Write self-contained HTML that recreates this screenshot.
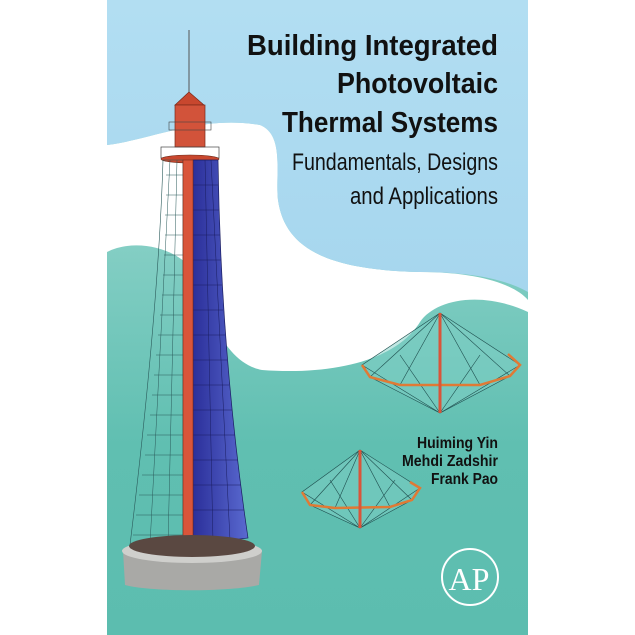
<!DOCTYPE html>
<html><head><meta charset="utf-8"><style>
html,body{margin:0;padding:0;background:#fff;width:635px;height:635px;overflow:hidden}
svg{display:block}
</style></head><body>
<svg width="635" height="635" viewBox="0 0 635 635" xmlns="http://www.w3.org/2000/svg">
<defs>
<linearGradient id="teal" x1="0" y1="0" x2="0" y2="1">
<stop offset="0" stop-color="#b4e0dc"/><stop offset="0.45" stop-color="#7ccbc0"/><stop offset="0.7" stop-color="#60bfb1"/><stop offset="1" stop-color="#5cbdaf"/>
</linearGradient>
<linearGradient id="sky" x1="0" y1="0" x2="0" y2="1">
<stop offset="0" stop-color="#b2def2"/><stop offset="1" stop-color="#a6d6ee"/>
</linearGradient>
<linearGradient id="blue" x1="0" y1="0" x2="1" y2="0">
<stop offset="0" stop-color="#2b2f9a"/><stop offset="1" stop-color="#5a6ad0"/>
</linearGradient>
</defs>
<rect x="107" y="0" width="421" height="635" fill="url(#teal)"/>
<path d="M107,145 C150,140 200,115 260,125 C285,135 275,175 278,200 C285,250 330,270 420,272 C480,272 515,285 528,300 L528,312 C480,290 435,300 420,322 C395,362 330,375 262,370 C220,362 205,300 185,262 C165,245 130,240 107,252 Z" fill="#ffffff"/>
<path d="M107,0 L528,0 L528,292 C510,282 480,272 420,272 C330,270 285,250 278,200 C275,175 285,135 260,125 C200,115 150,140 107,145 Z" fill="url(#sky)"/>

<!-- tower -->
<line x1="189" y1="30" x2="189" y2="92" stroke="#555" stroke-width="1"/>
<polygon points="189,92 204,105 175,105" fill="#c8472e" stroke="#7a2a1a" stroke-width="0.7"/>
<rect x="175" y="105" width="30" height="42" fill="#d2533a" stroke="#7a2a1a" stroke-width="0.7"/>
<rect x="169" y="122" width="42" height="8" fill="none" stroke="#444" stroke-width="0.6"/>
<rect x="161" y="147" width="58" height="11" fill="none" stroke="#444" stroke-width="0.7"/>
<ellipse cx="190" cy="159" rx="29" ry="4" fill="#c8472e" stroke="#6a2a1a" stroke-width="0.6"/>
<!-- mesh left -->
<path d="M163,160 C160,260 150,380 130,545 L183,545 L183,160 Z" fill="none" stroke="#2a5a5a" stroke-width="0.6"/>
<g stroke="#2a5a5a" stroke-width="0.5" fill="none">
<line x1="170" y1="160" x2="150" y2="545"/><line x1="177" y1="160" x2="168" y2="545"/>
<line x1="166" y1="175" x2="183" y2="175"/><line x1="166" y1="195" x2="183" y2="195"/><line x1="165" y1="215" x2="183" y2="215"/><line x1="165" y1="235" x2="183" y2="235"/><line x1="164" y1="255" x2="183" y2="255"/><line x1="163" y1="275" x2="183" y2="275"/><line x1="162" y1="295" x2="183" y2="295"/><line x1="160" y1="315" x2="183" y2="315"/><line x1="158" y1="335" x2="183" y2="335"/><line x1="156" y1="355" x2="183" y2="355"/><line x1="154" y1="375" x2="183" y2="375"/><line x1="152" y1="395" x2="183" y2="395"/><line x1="150" y1="415" x2="183" y2="415"/><line x1="147" y1="435" x2="183" y2="435"/><line x1="145" y1="455" x2="183" y2="455"/><line x1="142" y1="475" x2="183" y2="475"/><line x1="139" y1="495" x2="183" y2="495"/><line x1="136" y1="515" x2="183" y2="515"/><line x1="133" y1="535" x2="183" y2="535"/>
</g>
<!-- blue panels -->
<path d="M193,160 L218,160 C220,300 232,430 248,538 L193,545 Z" fill="url(#blue)" stroke="#1a1d60" stroke-width="0.7"/>
<g stroke="#1a1d60" stroke-width="0.5">
<line x1="205" y1="160" x2="213" y2="542"/><line x1="211" y1="160" x2="230" y2="540"/>
<line x1="193" y1="185" x2="218" y2="185"/><line x1="193" y1="210" x2="219" y2="210"/><line x1="193" y1="235" x2="220" y2="235"/><line x1="193" y1="260" x2="221" y2="260"/><line x1="193" y1="285" x2="222" y2="285"/><line x1="193" y1="310" x2="223" y2="310"/><line x1="193" y1="335" x2="225" y2="335"/><line x1="193" y1="360" x2="227" y2="360"/><line x1="193" y1="385" x2="229" y2="385"/><line x1="193" y1="410" x2="232" y2="410"/><line x1="193" y1="435" x2="235" y2="435"/><line x1="193" y1="460" x2="238" y2="460"/><line x1="193" y1="485" x2="241" y2="485"/><line x1="193" y1="510" x2="244" y2="510"/>
</g>
<rect x="183" y="160" width="10" height="385" fill="#d9553a" stroke="#7a2a1a" stroke-width="0.6"/>
<!-- base -->
<path d="M123,551 L262,551 L259,585 C230,592 150,592 125,585 Z" fill="#a9a9a6"/>
<ellipse cx="192" cy="551" rx="70" ry="12" fill="#cfcfcc"/>
<ellipse cx="192" cy="546" rx="63" ry="11" fill="#5a4841"/>

<!-- diamond 1 -->
<g stroke="#1f4f4f" stroke-width="0.6" fill="none">
<polygon points="440,313 520,365 510,376 440,413 370,377 362,365" fill="#7fd0c6" fill-opacity="0.5"/>
<line x1="440" y1="313" x2="370" y2="377"/><line x1="440" y1="313" x2="400" y2="385"/><line x1="440" y1="313" x2="480" y2="385"/><line x1="440" y1="313" x2="510" y2="376"/>
<line x1="440" y1="413" x2="362" y2="365"/><line x1="440" y1="413" x2="400" y2="355"/><line x1="440" y1="413" x2="480" y2="355"/><line x1="440" y1="413" x2="520" y2="365"/>
</g>
<polyline points="362,365 370,377 400,385 480,385 510,376 520,365 508,354" fill="none" stroke="#e07a35" stroke-width="2.5"/>
<line x1="440" y1="313" x2="440" y2="413" stroke="#d9553a" stroke-width="3"/>
<!-- diamond 2 -->
<g stroke="#1f4f4f" stroke-width="0.6" fill="none">
<polygon points="360,450 420,488 412,500 360,528 310,505 302,492" fill="#7fd0c6" fill-opacity="0.5"/>
<line x1="360" y1="450" x2="310" y2="505"/><line x1="360" y1="450" x2="335" y2="508"/><line x1="360" y1="450" x2="390" y2="507"/><line x1="360" y1="450" x2="412" y2="500"/>
<line x1="360" y1="528" x2="302" y2="492"/><line x1="360" y1="528" x2="330" y2="480"/><line x1="360" y1="528" x2="395" y2="480"/><line x1="360" y1="528" x2="420" y2="488"/>
</g>
<polyline points="302,492 310,505 335,508 390,507 412,500 420,488 410,482" fill="none" stroke="#e07a35" stroke-width="2.5"/>
<line x1="360" y1="450" x2="360" y2="528" stroke="#d9553a" stroke-width="3"/>

<!-- title -->
<g font-family="Liberation Sans, sans-serif" fill="#111" text-anchor="end">
<text x="498" y="55" font-size="29" font-weight="bold" textLength="251" lengthAdjust="spacingAndGlyphs">Building Integrated</text>
<text x="498" y="93" font-size="29" font-weight="bold" textLength="161" lengthAdjust="spacingAndGlyphs">Photovoltaic</text>
<text x="498" y="132" font-size="29" font-weight="bold" textLength="216" lengthAdjust="spacingAndGlyphs">Thermal Systems</text>
<text x="498" y="170" font-size="24" textLength="206" lengthAdjust="spacingAndGlyphs">Fundamentals, Designs</text>
<text x="498" y="204" font-size="24" textLength="148" lengthAdjust="spacingAndGlyphs">and Applications</text>
<text x="498" y="448" font-size="16" font-weight="bold" textLength="81" lengthAdjust="spacingAndGlyphs">Huiming Yin</text>
<text x="498" y="466" font-size="16" font-weight="bold" textLength="96" lengthAdjust="spacingAndGlyphs">Mehdi Zadshir</text>
<text x="498" y="484" font-size="16" font-weight="bold" textLength="67" lengthAdjust="spacingAndGlyphs">Frank Pao</text>
</g>
<!-- AP logo -->
<circle cx="470" cy="577" r="28" fill="none" stroke="#fff" stroke-width="2"/>
<text x="469" y="590" font-family="Liberation Serif, serif" font-size="32" fill="#fff" text-anchor="middle">AP</text>
</svg>
</body></html>
